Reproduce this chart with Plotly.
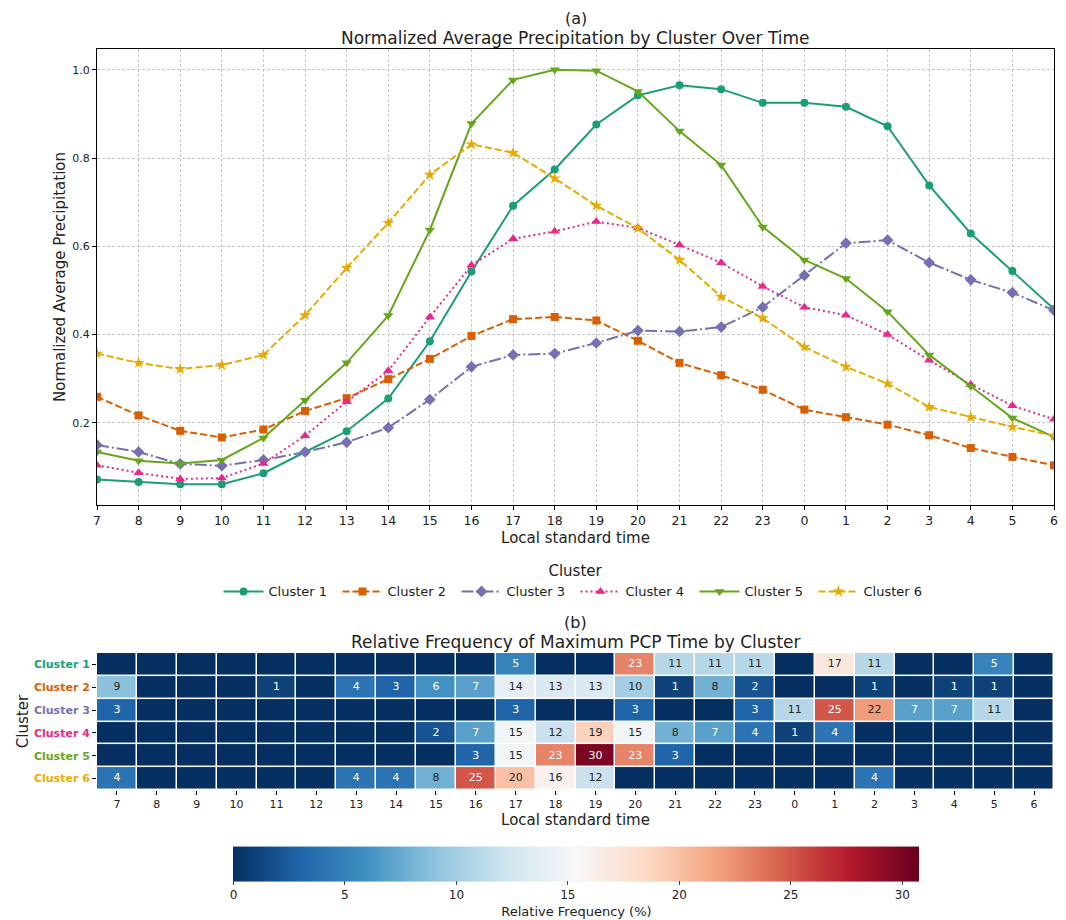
import plotly.graph_objects as go

hours = ["7", "8", "9", "10", "11", "12", "13", "14", "15", "16", "17", "18",
         "19", "20", "21", "22", "23", "0", "1", "2", "3", "4", "5", "6"]
clusters = ["Cluster 1", "Cluster 2", "Cluster 3", "Cluster 4", "Cluster 5", "Cluster 6"]
colors = ["#1b9e77", "#d95f02", "#7570b3", "#e7298a", "#66a61e", "#e6ab02"]

c1 = [0.072, 0.066, 0.061, 0.061, 0.086, 0.134, 0.181, 0.255, 0.385, 0.543, 0.692, 0.774,
      0.876, 0.942, 0.965, 0.956, 0.925, 0.925, 0.916, 0.872, 0.738, 0.629, 0.544, 0.458]
c2 = [0.259, 0.217, 0.182, 0.167, 0.185, 0.227, 0.256, 0.299, 0.345, 0.397, 0.435, 0.440,
      0.432, 0.386, 0.336, 0.308, 0.275, 0.230, 0.213, 0.196, 0.172, 0.143, 0.123, 0.104]
c3 = [0.150, 0.134, 0.107, 0.103, 0.116, 0.134, 0.156, 0.189, 0.253, 0.327, 0.354, 0.357,
      0.381, 0.409, 0.407, 0.417, 0.462, 0.534, 0.607, 0.614, 0.563, 0.524, 0.495, 0.455]
c4 = [0.104, 0.087, 0.073, 0.075, 0.108, 0.171, 0.248, 0.318, 0.440, 0.557, 0.617, 0.634,
      0.656, 0.642, 0.603, 0.563, 0.509, 0.462, 0.444, 0.400, 0.342, 0.287, 0.239, 0.208]
c5 = [0.134, 0.114, 0.108, 0.116, 0.166, 0.251, 0.336, 0.443, 0.637, 0.878, 0.977, 1.000,
      0.998, 0.951, 0.861, 0.784, 0.644, 0.569, 0.527, 0.452, 0.354, 0.283, 0.211, 0.168]
c6 = [0.357, 0.336, 0.322, 0.331, 0.354, 0.444, 0.551, 0.653, 0.762, 0.831, 0.812, 0.754,
      0.692, 0.641, 0.569, 0.486, 0.437, 0.372, 0.327, 0.289, 0.236, 0.213, 0.191, 0.171]
series = [c1, c2, c3, c4, c5, c6]

# Relative frequency (%) of maximum PCP time, rows = clusters, cols = hours
f1 = [0, 0, 0, 0, 0, 0, 0, 0, 0, 0, 5, 0, 0, 23, 11, 11, 11, 0, 17, 11, 0, 0, 5, 0]
f2 = [9, 0, 0, 0, 1, 0, 4, 3, 6, 7, 14, 13, 13, 10, 1, 8, 2, 0, 0, 1, 0, 1, 1, 0]
f3 = [3, 0, 0, 0, 0, 0, 0, 0, 0, 0, 3, 0, 0, 3, 0, 0, 3, 11, 25, 22, 7, 7, 11, 0]
f4 = [0, 0, 0, 0, 0, 0, 0, 0, 2, 7, 15, 12, 19, 15, 8, 7, 4, 1, 4, 0, 0, 0, 0, 0]
f5 = [0, 0, 0, 0, 0, 0, 0, 0, 0, 3, 15, 23, 30, 23, 3, 0, 0, 0, 0, 0, 0, 0, 0, 0]
f6 = [4, 0, 0, 0, 0, 0, 4, 4, 8, 25, 20, 16, 12, 0, 0, 0, 0, 0, 0, 4, 0, 0, 0, 0]
freq = [f1, f2, f3, f4, f5, f6]

symbols = ["circle", "square", "diamond", "triangle-up", "triangle-down", "star"]
dashes = ["solid", "7px,3px", "12px,3px,2px,3px", "2px,3px", "solid", "7px,3px"]
msizes = [8, 8, 9, 9, 9, 9]

rdbu_r = ['rgb(5,48,97)', 'rgb(33,102,172)', 'rgb(67,147,195)', 'rgb(146,197,222)',
          'rgb(209,229,240)', 'rgb(247,247,247)', 'rgb(253,219,199)', 'rgb(244,165,130)',
          'rgb(214,96,77)', 'rgb(178,24,43)', 'rgb(103,0,31)']
cscale = [[i / (len(rdbu_r) - 1), c] for i, c in enumerate(rdbu_r)]

FONT = "DejaVu Sans"
fig = go.Figure()

for name, vals, col, sym, dsh, ms in zip(clusters, series, colors, symbols, dashes, msizes):
    fig.add_trace(go.Scatter(
        x=hours, y=vals, name=name, mode="lines+markers",
        line=dict(color=col, width=2, dash=dsh),
        marker=dict(symbol=sym, size=ms, color=col),
        xaxis="x", yaxis="y"))

fig.add_trace(go.Heatmap(
    z=freq, x=hours, y=clusters, xaxis="x2", yaxis="y2",
    colorscale=cscale, zmin=0, zmax=30.77, xgap=1.5, ygap=1.5,
    showscale=True, hoverinfo="skip",
    colorbar=dict(orientation="h", x=0.501, xanchor="center", y=-0.0018, yanchor="middle",
                  thickness=35, len=706, lenmode="pixels", outlinewidth=0,
                  tickvals=[0, 5, 10, 15, 20, 25, 30], ticks="outside", ticklen=4,
                  tickfont=dict(family=FONT, size=12, color="#222"),
                  title=dict(text="Relative Frequency (%)", side="bottom",
                             font=dict(family=FONT, size=13, color="#222")))))

tx, ty, tt, tc = [], [], [], []
for cl, row in zip(clusters, freq):
    for h, v in zip(hours, row):
        if v > 0:
            tx.append(h)
            ty.append(cl)
            tt.append(f"{v:.0f}")
            tc.append("#262626" if 7.5 < v < 22.5 else "white")
fig.add_trace(go.Scatter(x=tx, y=ty, text=tt, mode="text", xaxis="x2", yaxis="y2",
                         textfont=dict(family=FONT, size=11, color=tc),
                         showlegend=False, hoverinfo="skip"))

axis_common = dict(showline=True, linecolor="black", linewidth=1, mirror=True,
                   ticks="outside", ticklen=4, tickcolor="black", zeroline=False)

fig.update_layout(
    width=1058, height=912,
    margin=dict(l=89, r=12, t=41, b=38, autoexpand=False),
    paper_bgcolor="white", plot_bgcolor="white",
    font=dict(family=FONT, color="#222"),
    xaxis=dict(domain=[0, 1], anchor="y", type="category", range=[-0.0001, 23.0001],
               showgrid=True, gridcolor="#c8c8c8", griddash="3px,2px", gridwidth=0.8,
               tickfont=dict(size=12.5),
               title=dict(text="Local standard time", font=dict(size=15), standoff=5),
               **axis_common),
    yaxis=dict(domain=[0.4526, 1], anchor="x", range=[0.014, 1.047],
               tickvals=[0.2, 0.4, 0.6, 0.8, 1.0], tickformat=".1f",
               showgrid=True, gridcolor="#c8c8c8", griddash="3px,2px", gridwidth=0.8,
               tickfont=dict(size=11),
               title=dict(text="Normalized Average Precipitation", font=dict(size=15), standoff=3),
               **axis_common),
    xaxis2=dict(domain=[0, 1], anchor="y2", type="category", range=[-0.5, 23.5],
                showline=False, ticks="outside", ticklen=4, tickcolor="black",
                tickfont=dict(size=11), showgrid=False, zeroline=False,
                title=dict(text="Local standard time", font=dict(size=15), standoff=3)),
    yaxis2=dict(domain=[0.1104, 0.2749], anchor="x2", type="category",
                autorange="reversed", showline=False, ticks="outside", ticklen=4,
                tickcolor="black", showgrid=False, zeroline=False,
                tickvals=clusters,
                ticktext=[f'<span style="color:{c}"><b>{n}</b></span>' for n, c in zip(clusters, colors)],
                tickfont=dict(size=11),
                title=dict(text="Cluster", font=dict(size=15), standoff=1)),
    legend=dict(orientation="h", x=0.5, xanchor="center", y=0.3902, yanchor="top",
                title=dict(text="Cluster", side="top center", font=dict(size=15)),
                font=dict(size=13), itemwidth=40, entrywidth=64, tracegroupgap=0),
    annotations=[
        dict(text="(a)", x=0.5, y=1.0372, xref="paper", yref="paper", showarrow=False,
             font=dict(size=16), yanchor="middle"),
        dict(text="Normalized Average Precipitation by Cluster Over Time", x=0.5, y=1.0132,
             xref="paper", yref="paper", showarrow=False, font=dict(size=17), yanchor="middle"),
        dict(text="(b)", x=0.5, y=0.3117, xref="paper", yref="paper", showarrow=False,
             font=dict(size=16), yanchor="middle"),
        dict(text="Relative Frequency of Maximum PCP Time by Cluster", x=0.5, y=0.2881,
             xref="paper", yref="paper", showarrow=False, font=dict(size=17), yanchor="middle"),
    ],
)

fig.write_html("out.html")
